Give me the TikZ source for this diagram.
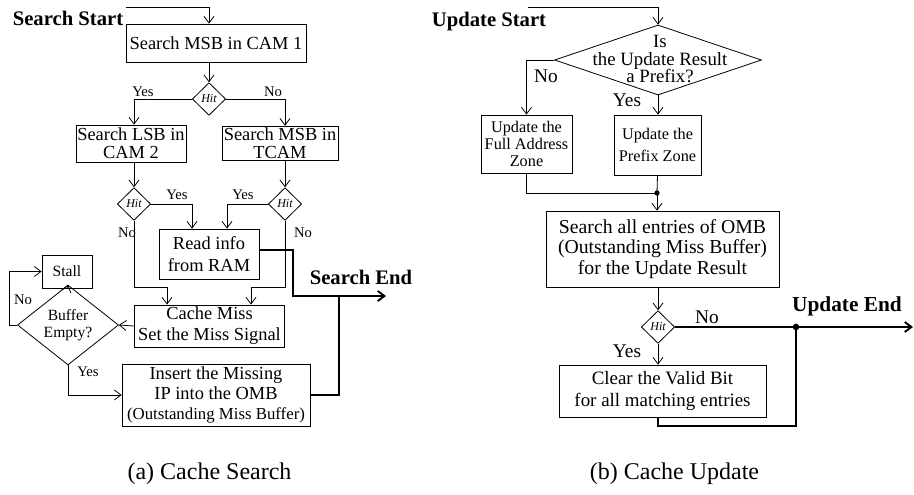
\documentclass[tikz,border=0pt]{standalone}
\usepackage{fontspec}
\setmainfont{Liberation Serif}
\usepackage{tikz}
\usetikzlibrary{positioning, shapes}
\usetikzlibrary{arrows.meta}
\usetikzlibrary{calc}

\begin{document}
\begin{tikzpicture}[x=0.75pt,y=-0.75pt]
            \tikzset{box/.style = {draw, line width=0.6pt, inner sep=0pt, align=center, font=\fontsize{13.8}{16.5}\selectfont}}
            \tikzset{hit/.style = {draw, diamond, line width=0.6pt, inner sep=0pt, minimum width=25pt, minimum height=24.5pt, font=\fontsize{9}{10}\selectfont\itshape}}
            \tikzset{edge/.style = {-{Straight Barb[length=5pt,width=7.5pt]}, line width=0.6pt}}
            \tikzset{wire/.style = {line width=0.6pt}}
            \tikzset{outedge/.style = {line width=1.4pt}}
            \tikzset{lbl/.style = {inner sep=0pt, font=\fontsize{11}{12}\selectfont}}
            \tikzset{biglbl/.style = {inner sep=0pt, font=\fontsize{14.5}{16}\selectfont}}
            \tikzset{endlbl/.style = {inner sep=0pt, font=\fontsize{15.5}{17}\selectfont\bfseries}}

            \useasboundingbox (0,0) rectangle (914,494);

            % cache search
            \node[endlbl] (sstart) at (68,18) {Search Start};
            \coordinate (s0) at (126,7);
            \node[box, minimum width=135pt, minimum height=28.5pt] (s1) at (216,43) {Search MSB in CAM 1};
            \node[hit] (h1) at (209,99) {Hit};
            \node[box, minimum width=82.5pt, minimum height=27.75pt, font=\fontsize{13.8}{13.5}\selectfont] (s2) at (131,143.5) {Search LSB in\\CAM 2};
            \node[box, minimum width=87pt, minimum height=26pt, font=\fontsize{13.8}{13.5}\selectfont] (s3) at (280,143.5) {Search MSB in\\TCAM};
            \node[hit] (h2) at (134,204) {Hit};
            \node[hit] (h3) at (285,204) {Hit};
            \node[box, minimum width=75pt, minimum height=37.5pt] (s4) at (209,254) {Read info\\from RAM};
            \node[box, minimum width=113pt, minimum height=31.5pt, font=\fontsize{13.8}{15.75}\selectfont] (s5) at (209.5,326) {Cache Miss\\Set the Miss Signal};
            \node[box, minimum width=37.5pt, minimum height=24.75pt, font=\fontsize{11.7}{13}\selectfont] (s6) at (67,271.5) {Stall};
            \node[hit, minimum width=75.75pt, minimum height=36.75pt, align=center, font=\fontsize{11.7}{12.75}\selectfont] (h4) at (68,325) {Buffer\\Empty?};
            \node[box, minimum width=141pt, minimum height=46.5pt, font=\fontsize{13.8}{15}\selectfont] (s7) at (216,395) {Insert the Missing\\IP into the OMB\\{\fontsize{12.6}{13}\selectfont (Outstanding Miss Buffer)}};

            \node[lbl] (y1) at (143,92) {Yes};
            \node[lbl] (n1) at (273,92) {No};
            \node[lbl] (y2) at (177,195) {Yes};
            \node[lbl] (y3) at (243,195) {Yes};
            \node[lbl] (n2) at (127,233) {No};
            \node[lbl] (n3) at (303,233) {No};
            \node[lbl] (n4) at (23,300) {No};
            \node[lbl] (y4) at (88,372) {Yes};

            \node[endlbl] (send) at (361,277) {Search End};
            \coordinate (se) at (386,296);
            \coordinate (sj) at (339,296);

            \draw[edge] (s0) -| (h1 |- s1.north);
            \draw[edge] (h1 |- s1.south) -- (h1.north);
            \draw[edge] (h1.west) -| (h2 |- s2.north);
            \draw[edge] (h1.east) -| (h3 |- s3.north);
            \draw[edge] (h2 |- s2.south) -- (h2.north);
            \draw[edge] (h3 |- s3.south) -- (h3.north);
            \draw[edge] (h2.east) -| ($(s4.north)+(-17,0)$);
            \draw[edge] (h3.west) -| ($(s4.north)+(18,0)$);
            \draw[edge] (h2.south) |- ($(s5.north)+(-42.5,-17)$) -- ($(s5.north)+(-42.5,0)$);
            \draw[edge] (h3.south) |- ($(s5.north)+(41.5,-17)$) -- ($(s5.north)+(41.5,0)$);
            \draw[edge] (s5.west) -- (h4.east);
            \draw[edge] (s6.south) -- (h4.north);
            \draw[edge] (h4.west) -- ++(-8,0) |- (s6.west);
            \draw[edge] (h4.south) |- (s7.west);
            \draw[outedge, -{Straight Barb[length=5pt,width=7.5pt]}] ($(s4.east)+(0,-4)$) -- ($(s4.east)+(34,-4)$) |- (se);
            \draw[outedge] (s7.east) -| (sj);

            % cache update
            \node[endlbl] (ustart) at (489,22) {Update Start};
            \coordinate (u0) at (528,7);
            \node[hit, minimum width=155.25pt, minimum height=52.5pt] (h5) at (658,60) {};
            \node[inner sep=0pt, align=center, font=\fontsize{14.1}{13.2}\selectfont] (t5) at (660,59) {Is\\the Update Result\\a Prefix?};
            \node[box, minimum width=68.25pt, minimum height=43.5pt, font=\fontsize{12.2}{12.75}\selectfont] (u1) at (526.5,144) {Update the\\Full Address\\Zone};
            \node[box, minimum width=65.25pt, minimum height=45pt, font=\fontsize{12.2}{16.5}\selectfont] (u2) at (657.5,145) {Update the\\Prefix Zone};
            \coordinate (uj) at (657,193);
            \node[box, minimum width=174.75pt, minimum height=57pt, font=\fontsize{14.8}{15.4}\selectfont] (u3) at (662.5,249) {Search all entries of OMB\\(Outstanding Miss Buffer)\\for the Update Result};
            \node[hit] (h6) at (658,327) {Hit};
            \node[box, minimum width=155.25pt, minimum height=39pt, font=\fontsize{14.2}{16.5}\selectfont] (u4) at (662.5,391) {Clear the Valid Bit\\for all matching entries};
            \coordinate (ue) at (913,327);
            \coordinate (ud) at (796,327);

            \node[biglbl] (n5) at (546,76) {No};
            \node[biglbl] (y5) at (627,100) {Yes};
            \node[biglbl] (n6) at (707,317) {No};
            \node[biglbl] (y6) at (627,351) {Yes};
            \node[endlbl, font=\fontsize{16}{17}\selectfont\bfseries] (uend) at (847,306) {Update End};

            \draw[edge] (u0) -| (h5.north);
            \draw[edge] (h5.west) -| (u1.north);
            \draw[edge] (h5.south) -- (h5 |- u2.north);
            \draw[wire] (u1.south) |- (uj);
            \draw[wire] (u2.south) -- (uj);
            \fill (uj) circle (2pt);
            \draw[edge] (uj) -- (uj |- u3.north);
            \draw[edge] (h6 |- u3.south) -- (h6.north);
            \draw[outedge, -{Straight Barb[length=5pt,width=7.5pt]}] (h6.east) -- (ue);
            \fill (ud) circle (2.5pt);
            \draw[edge] (h6.south) -- (h6 |- u4.north);
            \draw[outedge] (h6 |- u4.south) -- ($(h6 |- u4.south)+(0,9)$) -| (ud);

            % captions
            \node[font=\fontsize{18}{20}\selectfont] (ca) at (209.5,474) {(a) Cache Search};
            \node[font=\fontsize{18}{20}\selectfont] (cb) at (674.5,474) {(b) Cache Update};

\end{tikzpicture}
\end{document}
